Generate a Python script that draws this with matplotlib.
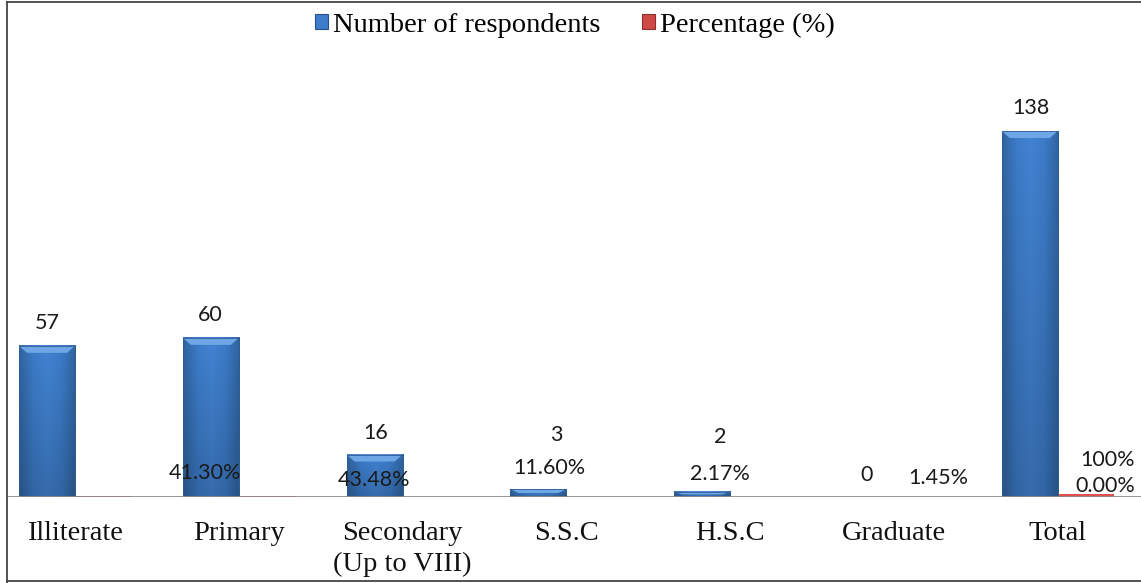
import numpy as np
import matplotlib
matplotlib.use("Agg")
import matplotlib.pyplot as plt
from matplotlib.patches import Rectangle, Polygon
from matplotlib.lines import Line2D
from matplotlib.colors import LinearSegmentedColormap

# Education level of respondents
categories = ["Illiterate", "Primary", "Secondary\n(Up to VIII)", "S.S.C",
              "H.S.C", "Graduate", "Total"]
respondents = [57, 60, 16, 3, 2, 0, 138]
percentage = [41.30, 43.48, 11.60, 2.17, 1.45, 0.00, 100.0]
count_labels = ["57", "60", "16", "3", "2", "0", "138"]
pct_labels = ["41.30%", "43.48%", "11.60%", "2.17%", "1.45%", "0.00%", "100%"]

W, H = 1141, 583
fig = plt.figure(figsize=(W / 100, H / 100), dpi=100)
fig.patch.set_facecolor("white")

# plot area geometry (pixels)
base_px, top_px, left_px = 497, 2, 7
ax = fig.add_axes([left_px / W, 1 - base_px / H, 1 - left_px / W, (base_px - top_px) / H])
px_per_unit = 2.652
slot_px = 163.8
ax.set_ylim(0, (base_px - top_px) / px_per_unit)
ax.set_xlim((left_px - 75) / slot_px, (W - 75) / slot_px)
for s in ax.spines.values():
    s.set_visible(False)
ax.set_yticks([])

x = np.arange(len(categories))
bw = 0.342
blue_x = x - bw / 2
red_x = x + bw / 2

blue_cmap = LinearSegmentedColormap.from_list(
    "bl", ["#30649f", "#3c7bc8", "#4283d2", "#3c7bc8", "#30649f"])


def shaded_bar(xc, h, cmap, top_col, edge_col=None, bottom_shade=0.18):
    if h <= 0:
        return
    x0, x1 = xc - bw / 2, xc + bw / 2
    gx = np.linspace(0, 1, 64)
    gy = np.linspace(0, 1, 64)[:, None]
    img = cmap(np.tile(gx, (64, 1)))
    # darken toward the bottom
    dark = 1 - bottom_shade * (1 - gy)
    img[..., :3] *= dark[..., None]
    ax.imshow(img, extent=(x0, x1, 0, h), origin="lower", aspect="auto",
              interpolation="bilinear", zorder=2)
    # bevel on top
    bx = 8 / slot_px
    by = min(7 / px_per_unit, h * 0.5)
    bxx = min(bx, bw / 2 * 0.9)
    ax.add_patch(Polygon([(x0, h), (x1, h), (x1 - bxx, h - by), (x0 + bxx, h - by)],
                         closed=True, facecolor=top_col, edgecolor="none", zorder=3))
    if edge_col:
        ax.add_patch(Rectangle((x0, 0), bw, h, facecolor="none",
                               edgecolor=edge_col, linewidth=0.6, zorder=4))


for xc, v in zip(blue_x, respondents):
    shaded_bar(xc, v, blue_cmap, "#6ea6e6", edge_col="#2e5d96")

# percentage series plotted as fractions on the same axis
ax.bar(red_x, [p / 100 for p in percentage], width=bw, color="#e0524e",
       linewidth=0, zorder=2)

# baseline
ax.axhline(0, color="#8c8c8c", linewidth=2.0, zorder=5)

# data labels: (x offset from category, height above zero)
count_pos = [(-0.171, 65.6), (-0.176, 68.6), (-0.162, 24.1), (-0.063, 23.4),
             (-0.062, 22.6), (-0.165, 8.3), (-0.164, 146.7)]
pct_pos = [(0.794, 9.0), (0.825, 6.4), (0.894, 10.9), (0.938, 8.7),
           (0.269, 7.2), (0.287, 4.1), (0.305, 14.0)]
pct_anchor = [0, 1, 2, 3, 5, 6, 6]

lab_font = dict(family="Lato", fontsize=15.5, color="#1a1a1a", zorder=6)
for i, (t, (dx, yy)) in enumerate(zip(count_labels, count_pos)):
    ax.text(x[i] + dx, yy, t, ha="center", va="center", **lab_font)
for i, (t, (dx, yy)) in enumerate(zip(pct_labels, pct_pos)):
    ax.text(pct_anchor[i] + dx, yy, t, ha="center", va="center", **lab_font)

# category axis
ax.set_xticks(x)
ax.set_xticklabels(categories, family="Liberation Serif", fontsize=20.5,
                   color="#111111", linespacing=1.35)
ax.tick_params(axis="x", length=0, pad=17)

# legend
handles = [Rectangle((0, 0), 1, 1, facecolor="#3e7dcc", edgecolor="#27538c", linewidth=0.8),
           Rectangle((0, 0), 1, 1, facecolor="#cf4a46", edgecolor="#8e2f2c", linewidth=0.8)]
leg = fig.legend(handles, ["Number of respondents", "Percentage (%)"],
                 loc="center", bbox_to_anchor=(575 / W, 1 - 25 / H), ncol=2,
                 frameon=False, prop=dict(family="Liberation Serif", size=20.5),
                 handlelength=0.45, handleheight=0.45, handletextpad=0.2,
                 columnspacing=1.45, borderaxespad=0, borderpad=0)

# outer frame
frame = Line2D([left_px / W, left_px / W], [0.5 / H, 1 - top_px / H],
               transform=fig.transFigure, color="#444444", linewidth=1.3)
frame_top = Line2D([left_px / W, 1], [1 - top_px / H, 1 - top_px / H],
                   transform=fig.transFigure, color="#444444", linewidth=1.3)
frame_bot = Line2D([left_px / W, 1], [1 - 581 / H, 1 - 581 / H],
                   transform=fig.transFigure, color="#444444", linewidth=1.3)
fig.add_artist(frame)
fig.add_artist(frame_top)
fig.add_artist(frame_bot)

fig.savefig("out.png", dpi=100)
